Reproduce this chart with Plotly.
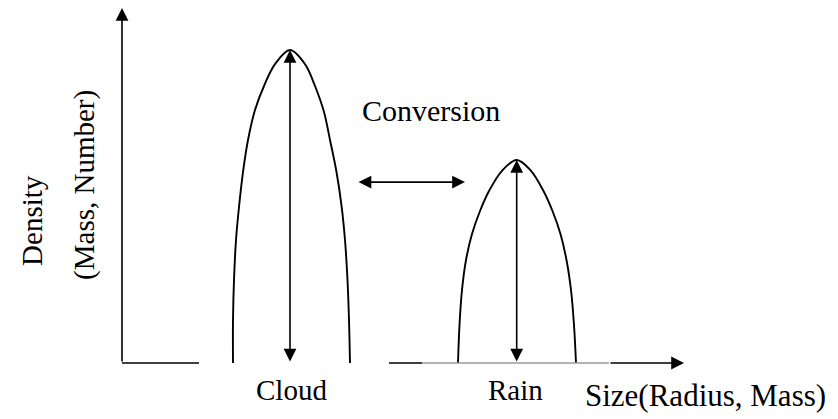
"""Cloud / rain size distribution sketch."""

import plotly.graph_objects as go

# density units on y, size units on x
cloud_x = [11.1, 11.1, 11.2, 11.4, 11.7, 12.1, 12.6, 13.3, 14.2, 15.3, 16.8,
           18.3, 19.3, 20.2, 20.8, 21.45, 21.97, 22.3, 22.55, 22.7, 22.8]
cloud_y = [0.0, 1.374, 2.652, 3.93, 4.984, 6.102, 7.125, 8.083, 8.85, 9.55, 10.0,
           9.55, 8.85, 8.019, 7.125, 6.102, 4.984, 3.93, 2.652, 1.374, 0.0]
cloud_peak_x = 16.8
cloud_peak_y = 10.0

rain_x = [33.6, 33.75, 34.0, 34.4, 35.0, 35.8, 36.7, 38.0, 39.47,
          40.9, 42.15, 43.05, 43.85, 44.45, 44.9, 45.2, 45.4]
rain_y = [0.0, 1.214, 2.332, 3.291, 4.121, 4.856, 5.495, 6.14, 6.486,
          6.14, 5.495, 4.856, 4.121, 3.291, 2.332, 1.214, 0.0]
rain_peak_x = 39.47
rain_peak_y = 6.486

conversion_x = [23.5, 34.3]
conversion_y = 5.78

y_axis_top = 11.34
# x axis pieces: (start, end, colour)
x_axis_pieces = [(0.0, 7.7, "black"), (26.7, 30.0, "black"), (30.0, 48.7, "#9a9a9a")]
x_axis_arrow = (48.7, 56.2)

FONT = "Liberation Serif"
INK = "black"

fig = go.Figure()

for name, xs, ys in [("Cloud", cloud_x, cloud_y), ("Rain", rain_x, rain_y)]:
    fig.add_trace(go.Scatter(x=xs, y=ys, mode="lines", name=name,
                             line=dict(color=INK, width=1.9, shape="spline", smoothing=1.0),
                             hoverinfo="skip"))

for x0, x1, col in x_axis_pieces:
    fig.add_trace(go.Scatter(x=[x0, x1], y=[0, 0], mode="lines",
                             line=dict(color=col, width=1.6), hoverinfo="skip"))


def arrow(x0, y0, x1, y1, both=False):
    fig.add_annotation(x=x1, y=y1, ax=x0, ay=y0, xref="x", yref="y", axref="x", ayref="y",
                       text="", showarrow=True, arrowhead=2, arrowsize=1.6, arrowwidth=1.6,
                       arrowcolor=INK, arrowside="end+start" if both else "end")


arrow(0, 0, 0, y_axis_top)
arrow(x_axis_arrow[0], 0, x_axis_arrow[1], 0)
arrow(cloud_peak_x, 0, cloud_peak_x, cloud_peak_y, both=True)
arrow(rain_peak_x, 0, rain_peak_x, rain_peak_y, both=True)
arrow(conversion_x[0], conversion_y, conversion_x[1], conversion_y, both=True)


def label(text, x, y, angle=0, size=29):
    fig.add_annotation(x=x, y=y, xref="x", yref="y", text=text, showarrow=False,
                       textangle=angle, font=dict(family=FONT, size=size, color=INK))


label("Conversion", 30.9, 8.08, size=30)
label("Cloud", 16.9, -0.86)
label("Rain", 39.3, -0.86)
label("Size(Radius, Mass)", 58.35, -1.05, size=31)
label("Density", -9.0, 4.54, angle=-90)
label("(Mass, Number)", -3.7, 5.69, angle=-90)

# the page body keeps its 8px margin, so the figure sits at (8, 8) inside the window
fig.update_xaxes(range=[-11.4, 71.6], visible=False, fixedrange=True)
fig.update_yaxes(range=[-1.789, 11.342], visible=False, fixedrange=True)
fig.update_layout(width=830, height=411, margin=dict(l=0, r=0, t=0, b=0),
                  paper_bgcolor="white", plot_bgcolor="white", showlegend=False)

fig.write_html("out.html")
